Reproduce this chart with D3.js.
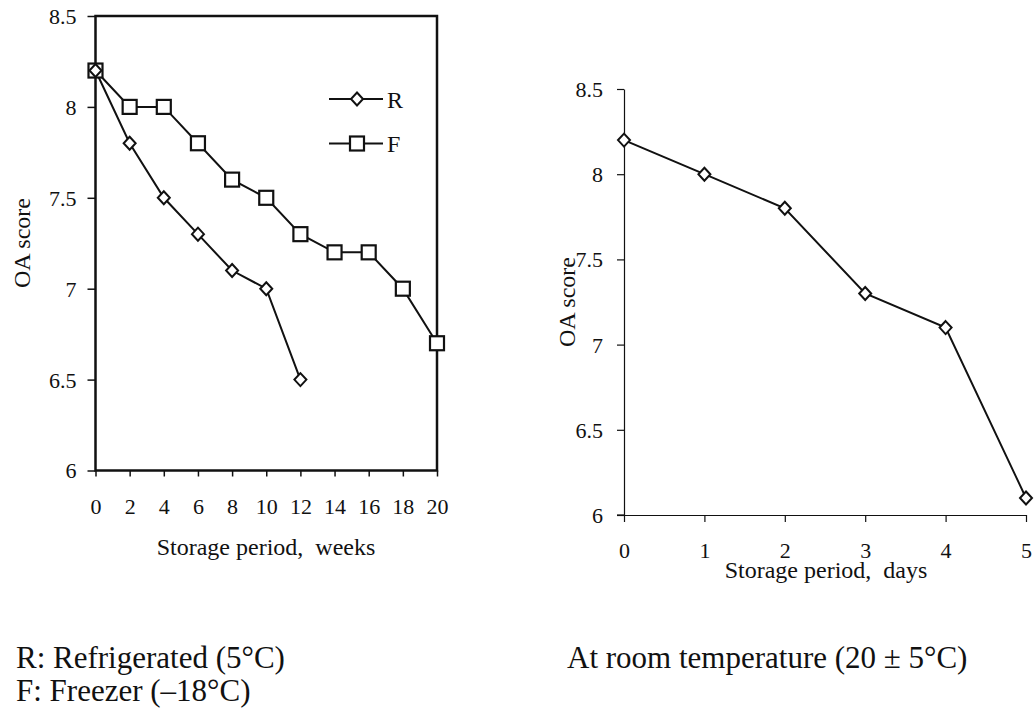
<!DOCTYPE html>
<html>
<head>
<meta charset="utf-8">
<script src="https://cdn.jsdelivr.net/npm/d3@7"></script>
<style>
  body { margin: 0; background: #fff; }
  svg { display: block; font-family: "Liberation Serif", "Times New Roman", serif; }
  text { white-space: pre; fill: #111; }
</style>
</head>
<body>
<div class="canvas"></div>
<script>
// data
const weeks = [0, 2, 4, 6, 8, 10, 12, 14, 16, 18, 20];
const refrigerated = [8.2, 7.8, 7.5, 7.3, 7.1, 7.0, 6.5];          // weeks 0..12
const freezer = [8.2, 8.0, 8.0, 7.8, 7.6, 7.5, 7.3, 7.2, 7.2, 7.0, 6.7];
const days = [0, 1, 2, 3, 4, 5];
const roomTemp = [8.2, 8.0, 7.8, 7.3, 7.1, 6.1];
const scoreTicks = [6, 6.5, 7, 7.5, 8, 8.5];
const legendNames = ['R', 'F'];

const svg = d3.select('.canvas')
  .append('svg')
    .attr('width', 1034)
    .attr('height', 713);

const ink = '#111';
const fmt = d => String(d);

function drawMarkers(g, pts, x, y, type) {
  if (type === 'square') {
    g.selectAll(null).data(pts).enter().append('rect')
      .attr('x', d => x(d.x) - 7).attr('y', d => y(d.y) - 7)
      .attr('width', 14).attr('height', 14)
      .attr('fill', '#fff').attr('stroke', ink).attr('stroke-width', 2.2);
  } else {
    g.selectAll(null).data(pts).enter().append('path')
      .attr('d', 'M0,-6.5L6,0L0,6.5L-6,0Z')
      .attr('transform', d => `translate(${x(d.x)},${y(d.y)})`)
      .attr('fill', '#fff').attr('stroke', ink).attr('stroke-width', 2);
  }
}

function styleAxis(a, keepDomain) {
  a.attr('font-family', null).attr('font-size', null);
  if (keepDomain) a.select('.domain').attr('stroke', ink).attr('stroke-width', 1.2);
  else a.select('.domain').remove();
  a.selectAll('line').attr('stroke', ink).attr('stroke-width', keepDomain ? 1.2 : 1.5);
  a.selectAll('text').attr('font-size', 22).attr('fill', ink);
}

// ---------- left chart: weeks ----------
const x1 = d3.scaleLinear().domain([0, 20]).range([95.5, 437]);
const y1 = d3.scaleLinear().domain([6, 8.5]).range([470.5, 16]);
const left = svg.append('g');

const xAxis1 = left.append('g').attr('transform', 'translate(0,470.5)')
  .call(d3.axisBottom(x1).tickValues(weeks).tickFormat(fmt).tickSize(6).tickSizeOuter(0));
const yAxis1 = left.append('g').attr('transform', 'translate(95.5,0)')
  .call(d3.axisLeft(y1).tickValues(scoreTicks).tickFormat(fmt).tickSize(8).tickPadding(11).tickSizeOuter(0));

styleAxis(xAxis1, false);
styleAxis(yAxis1, false);
xAxis1.selectAll('text').attr('y', 43).attr('dy', 0);
yAxis1.selectAll('text').attr('dy', '0.34em');

// frame
left.append('rect')
  .attr('x', x1(0)).attr('y', y1(8.5))
  .attr('width', x1(20) - x1(0)).attr('height', y1(6) - y1(8.5))
  .attr('fill', 'none').attr('stroke', ink).attr('stroke-width', 2.5);

const line1 = d3.line().x(d => x1(d.x)).y(d => y1(d.y));
const rPts = refrigerated.map((v, i) => ({ x: weeks[i], y: v }));
const fPts = freezer.map((v, i) => ({ x: weeks[i], y: v }));

left.append('path').attr('d', line1(fPts)).attr('fill', 'none').attr('stroke', ink).attr('stroke-width', 2);
left.append('path').attr('d', line1(rPts)).attr('fill', 'none').attr('stroke', ink).attr('stroke-width', 2);
drawMarkers(left, fPts, x1, y1, 'square');
drawMarkers(left, rPts, x1, y1, 'diamond');

// legend
const legend = left.append('g');
legendNames.forEach((name, i) => {
  const ly = 99 + i * 44.5;
  const item = legend.append('g');
  item.append('line').attr('x1', 329).attr('x2', 383).attr('y1', ly).attr('y2', ly)
    .attr('stroke', ink).attr('stroke-width', 2);
  drawMarkers(item, [{ x: 0, y: 0 }], () => 357, () => ly, i === 0 ? 'diamond' : 'square');
  item.append('text').attr('x', 387).attr('y', ly + 8.5).attr('font-size', 24).text(name);
});

left.append('text')
  .attr('x', 266).attr('y', 555).attr('text-anchor', 'middle').attr('font-size', 24)
  .text('Storage period,  weeks');
left.append('text')
  .attr('transform', 'translate(30,243) rotate(-90)').attr('text-anchor', 'middle').attr('font-size', 24)
  .text('OA score');

// ---------- right chart: days ----------
const x2 = d3.scaleLinear().domain([0, 5]).range([624, 1026]);
const y2 = d3.scaleLinear().domain([6, 8.5]).range([515, 89]);
const right = svg.append('g');

const xAxis2 = right.append('g').attr('transform', 'translate(0,515)')
  .call(d3.axisBottom(x2).tickValues(days).tickFormat(fmt).tickSize(7).tickSizeOuter(0));
const yAxis2 = right.append('g').attr('transform', 'translate(624,0)')
  .call(d3.axisLeft(y2).tickValues(scoreTicks).tickFormat(fmt).tickSize(7).tickPadding(14).tickSizeOuter(0));

styleAxis(xAxis2, true);
styleAxis(yAxis2, true);
xAxis2.selectAll('text').attr('y', 43).attr('dy', 0);
yAxis2.selectAll('text').attr('dy', '0.34em');
// short stub left of the origin, as in the original
right.append('line').attr('x1', 617).attr('x2', 624).attr('y1', 515).attr('y2', 515)
  .attr('stroke', ink).attr('stroke-width', 1.2);

const line2 = d3.line().x(d => x2(d.x)).y(d => y2(d.y));
const roomPts = roomTemp.map((v, i) => ({ x: days[i], y: v }));
right.append('path').attr('d', line2(roomPts)).attr('fill', 'none').attr('stroke', ink).attr('stroke-width', 2);
drawMarkers(right, roomPts, x2, y2, 'diamond');

right.append('text')
  .attr('x', 826).attr('y', 578).attr('text-anchor', 'middle').attr('font-size', 24)
  .text('Storage period,  days');
right.append('text')
  .attr('transform', 'translate(575,302) rotate(-90)').attr('text-anchor', 'middle').attr('font-size', 24)
  .text('OA score');

// ---------- captions ----------
svg.append('text').attr('x', 16).attr('y', 668).attr('font-size', 31).text('R: Refrigerated (5°C)');
svg.append('text').attr('x', 16).attr('y', 701).attr('font-size', 31).text('F: Freezer (–18°C)');
svg.append('text').attr('x', 567).attr('y', 668).attr('font-size', 31).text('At room temperature (20 ± 5°C)');
</script>
</body>
</html>
